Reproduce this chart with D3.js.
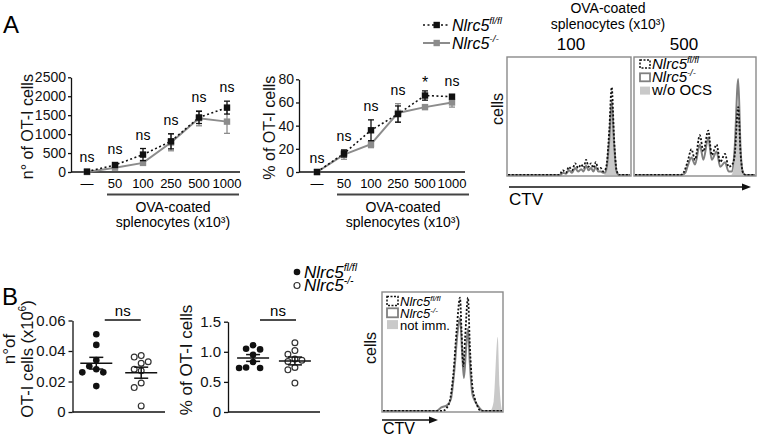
<!DOCTYPE html>
<html>
<head>
<meta charset="utf-8">
<script src="https://cdn.jsdelivr.net/npm/d3@7"></script>
<style>
  body { margin: 0; background: #fff; }
  svg { font-family: "Liberation Sans", Arial, Helvetica, sans-serif; }
</style>
</head>
<body>
<svg id="fig" width="758" height="436"></svg>
<script>
// ---- data: panel A line charts ----
const doses = ["—", "50", "100", "250", "500", "1000"];
const nFlMean = [10, 185, 460, 810, 1440, 1700];
const nFlErr = [10, 40, 160, 200, 160, 170];
const nKoMean = [0, 115, 240, 780, 1420, 1330];
const nKoErr = [10, 30, 50, 220, 200, 310];
const pctFlMean = [0, 16, 36, 50, 66, 65];
const pctFlErr = [0, 3, 9, 7, 4, 1.5];
const pctKoMean = [0, 15, 24, 51, 56, 60];
const pctKoErr = [0, 4, 3, 8, 2, 4];
const sigN = ["ns", "ns", "ns", "ns", "ns", "ns"];
const sigPct = ["ns", "ns", "ns", "ns", "*", "ns"];
const nTicks = [0, 500, 1000, 1500, 2000, 2500];
const pctTicks = [0, 20, 40, 60, 80];

// ---- data: panel B scatter ----
const bCountFl = [0.051, 0.044, 0.034, 0.030, 0.028, 0.026, 0.026, 0.017];
const bCountKo = [0.037, 0.036, 0.033, 0.032, 0.028, 0.027, 0.019, 0.016, 0.004];
const bPctFl = [1.11, 1.05, 1.04, 0.95, 0.83, 0.74, 0.73, 0.73];
const bPctKo = [1.15, 1.02, 0.96, 0.88, 0.86, 0.84, 0.74, 0.70, 0.48];
const bCountTicks = [0, 0.02, 0.04, 0.06];
const bPctTicks = [0, 0.5, 1.0, 1.5];

// ---- data: CTV histograms, [CTV, % of max] ----
const h100Fl = [[0,0],[42,0],[45,4],[47.5,2],[50,7],[52.5,4],[55,10],[57.5,6],[60,9],[62,6],[64,13],[66,7],[68,10],[70,6],[72,11],[74,5],[76,6],[78,3],[79.5,4],[81,10],[83,38],[85,75],[87,30],[89,4],[91,0],[100,0]];
const h100Ko = [[0,0],[43,0],[45,2],[47.5,1],[50,4],[52.5,2],[55,6],[57.5,3],[60,5],[62,3],[64,8],[66,4],[68,6],[70,3],[72,7],[74,3],[76,3],[78,2],[79.5,2],[81,7],[83,30],[85,63],[87,26],[89,3],[91,0],[100,0]];
const h100Ctrl = [[0,0],[78,0],[81,4],[83,28],[85,62],[87,26],[89,4],[91,0],[100,0]];
const h500Fl = [[0,0],[38,0],[41,3],[44,12],[47,22],[50,13],[54,34],[57,20],[61,38],[64,17],[68,26],[71,11],[75,18],[78,7],[81,9],[83,16],[86,58],[88,18],[90,2],[92,0],[100,0]];
const h500Ko = [[0,0],[39,0],[42,2],[44,8],[47,15],[50,9],[54,26],[57,13],[61,32],[64,13],[68,20],[71,7],[75,11],[78,3],[81,3],[83,22],[86,82],[88,22],[90,2],[92,0],[100,0]];
const h500Ctrl = [[0,0],[80,0],[82,4],[84,25],[86,62],[88,25],[90,3],[92,0],[100,0]];
const hImmFl = [[0,0],[50,0],[53,2],[56,8],[59,30],[62,70],[64.7,96],[66,68],[67.5,38],[69,62],[71.4,96],[73,55],[75,22],[77,11],[79,5],[81,1],[83,0],[100,0]];
const hImmKo = [[0,0],[45,0],[49,3],[54,5],[57,10],[60,35],[62.5,65],[64.7,79],[66.5,50],[68,28],[69.5,48],[71.4,70],[73,40],[75,15],[77,9],[80,4],[84,0],[100,0]];
const hImmCtrl = [[0,0],[90,0],[93,8],[96.4,63],[98,20],[99.5,3],[100,0]];

const BLACK = "#111";
const GRAY = "#8c8c8c";
const FILL = "#c9c9c9";
const svg = d3.select("#fig");

function supText(sel, base, sup, size) {
  sel.append("tspan").text(base);
  sel.append("tspan").attr("font-size", size * 0.62).attr("dy", -size * 0.4).text(sup);
  return sel;
}

function rotLabel(x, y, size) {
  return svg.append("text")
    .attr("transform", `translate(${x},${y}) rotate(-90)`)
    .attr("text-anchor", "middle").attr("font-size", size).attr("fill", BLACK);
}

function styleAxis(ax, size) {
  ax.attr("font-family", null).attr("font-size", null);
  ax.selectAll("text").attr("font-size", size).attr("fill", BLACK);
  ax.selectAll("line,path").attr("stroke", BLACK).attr("stroke-width", 1.3);
}

// ---- panel A line charts ----
function lineChart(o) {
  const g = svg.append("g");
  const x = d3.scalePoint().domain(doses).range(o.xr);
  const y = d3.scaleLinear().domain([0, o.ticks[o.ticks.length - 1]]).range(o.yr);

  const ax = g.append("g").attr("transform", `translate(${o.axisX},0)`)
    .call(d3.axisLeft(y).tickValues(o.ticks).tickFormat(d3.format("d"))
      .tickSize(3).tickSizeOuter(0).tickPadding(2));
  styleAxis(ax, 14);

  g.append("line").attr("x1", o.axisX).attr("x2", o.axisEnd)
    .attr("y1", o.yr[0]).attr("y2", o.yr[0]).attr("stroke", BLACK).attr("stroke-width", 1.3);

  g.selectAll(".cat").data(doses).join("text")
    .attr("x", d => x(d)).attr("y", o.yr[0] + 15.5)
    .attr("text-anchor", "middle").attr("font-size", 13).text(d => d);

  g.append("line").attr("x1", o.ul[0]).attr("x2", o.ul[1])
    .attr("y1", o.yr[0] + 22.5).attr("y2", o.yr[0] + 22.5)
    .attr("stroke", "#444").attr("stroke-width", 2);
  const uc = (o.ul[0] + o.ul[1]) / 2;
  g.append("text").attr("x", uc).attr("y", o.yr[0] + 40).attr("text-anchor", "middle")
    .attr("font-size", 14).text("OVA-coated");
  g.append("text").attr("x", uc).attr("y", o.yr[0] + 54.5).attr("text-anchor", "middle")
    .attr("font-size", 14).text("splenocytes (x10³)");

  const series = [
    { mean: o.ko, err: o.koErr, color: GRAY, dash: null, w: 2 },
    { mean: o.fl, err: o.flErr, color: BLACK, dash: "2,2.5", w: 1.6 }
  ];
  series.forEach(s => {
    const pts = doses.map((d, i) => [x(d), y(s.mean[i])]);
    g.append("path").attr("d", d3.line()(pts)).attr("fill", "none")
      .attr("stroke", s.color).attr("stroke-width", s.w).attr("stroke-dasharray", s.dash);
  });
  series.forEach(s => {
    doses.forEach((d, i) => {
      const cx = x(d), lo = y(Math.max(0, s.mean[i] - s.err[i])), hi = y(s.mean[i] + s.err[i]);
      if (s.err[i] > 0) {
        g.append("line").attr("x1", cx).attr("x2", cx).attr("y1", lo).attr("y2", hi)
          .attr("stroke", s.color).attr("stroke-width", 1.3);
        [lo, hi].forEach(v => g.append("line").attr("x1", cx - 3).attr("x2", cx + 3)
          .attr("y1", v).attr("y2", v).attr("stroke", s.color).attr("stroke-width", 1.3));
      }
      g.append("rect").attr("x", cx - 3.2).attr("y", y(s.mean[i]) - 3.2)
        .attr("width", 6.4).attr("height", 6.4).attr("fill", s.color);
    });
  });

  doses.forEach((d, i) => {
    const top = Math.max(o.fl[i] + o.flErr[i], o.ko[i] + o.koErr[i]);
    const star = o.sig[i] === "*";
    g.append("text").attr("x", x(d)).attr("y", y(top) - 9 + (star ? 6 : 0))
      .attr("text-anchor", "middle").attr("font-size", star ? 16 : 14).text(o.sig[i]);
  });

  rotLabel(o.titleX, (o.yr[0] + o.yr[1]) / 2 + 2, 16).text(o.title);
}

lineChart({ xr: [87, 227], yr: [172, 77.3], axisX: 71, axisEnd: 240, ul: [107, 239],
  ticks: nTicks, fl: nFlMean, flErr: nFlErr, ko: nKoMean, koErr: nKoErr, sig: sigN,
  titleX: 33, title: "n° of OT-I cells" });
lineChart({ xr: [317, 452], yr: [172, 79.3], axisX: 299, axisEnd: 465, ul: [337, 469],
  ticks: pctTicks, fl: pctFlMean, flErr: pctFlErr, ko: pctKoMean, koErr: pctKoErr, sig: sigPct,
  titleX: 275, title: "% of OT-I cells" });

// legend A
[{ c: BLACK, dash: "2,2.5", w: 1.6, sup: "fl/fl", y: 25 }, { c: GRAY, dash: null, w: 2, sup: "-/-", y: 43 }]
  .forEach(l => {
    svg.append("line").attr("x1", 423).attr("x2", 450).attr("y1", l.y).attr("y2", l.y)
      .attr("stroke", l.c).attr("stroke-width", l.w).attr("stroke-dasharray", l.dash);
    svg.append("rect").attr("x", 433.5).attr("y", l.y - 3.2).attr("width", 6.4).attr("height", 6.4).attr("fill", l.c);
    supText(svg.append("text").attr("x", 452).attr("y", l.y + 5.5).attr("font-size", 16)
      .attr("font-style", "italic"), "Nlrc5", l.sup, 16);
  });

// ---- histograms ----
function hist(b, fl, ko, ctrl) {
  const g = svg.append("g");
  const x = d3.scaleLinear().domain([0, 100]).range([b.x0 + 1, b.x1 - 1]);
  const y = d3.scaleLinear().domain([0, 100]).range([b.y1 - 1, b.y0 + 1]);
  const id = "clip" + Math.round(b.x0);
  svg.append("clipPath").attr("id", id).append("rect")
    .attr("x", b.x0).attr("y", b.y0).attr("width", b.x1 - b.x0).attr("height", b.y1 - b.y0);
  const inner = g.append("g").attr("clip-path", `url(#${id})`);
  inner.append("path").attr("d", d3.area().x(d => x(d[0])).y0(y(0)).y1(d => y(d[1])).curve(d3.curveMonotoneX)(ctrl))
    .attr("fill", FILL);
  inner.append("path").attr("d", d3.line().x(d => x(d[0])).y(d => y(d[1])).curve(d3.curveMonotoneX)(ko))
    .attr("fill", "none").attr("stroke", "#808080").attr("stroke-width", 2);
  inner.append("path").attr("d", d3.line().x(d => x(d[0])).y(d => y(d[1])).curve(d3.curveMonotoneX)(fl))
    .attr("fill", "none").attr("stroke", BLACK).attr("stroke-width", 1.8).attr("stroke-dasharray", "2,1.8");
  g.append("rect").attr("x", b.x0).attr("y", b.y0).attr("width", b.x1 - b.x0).attr("height", b.y1 - b.y0)
    .attr("fill", "none").attr("stroke", "#8a8a8a").attr("stroke-width", 1.4);
}

function histLegend(x, y0, step, w, h, size, labels) {
  const styles = [
    { fill: "none", stroke: BLACK, dash: "2,1.5", sw: 1.5 },
    { fill: "none", stroke: "#808080", dash: null, sw: 1.8 },
    { fill: FILL, stroke: "none", dash: null, sw: 0 }
  ];
  labels.forEach((lab, i) => {
    const yy = y0 + i * step;
    svg.append("rect").attr("x", x).attr("y", yy - h).attr("width", w).attr("height", h)
      .attr("fill", styles[i].fill).attr("stroke", styles[i].stroke)
      .attr("stroke-width", styles[i].sw).attr("stroke-dasharray", styles[i].dash);
    const t = svg.append("text").attr("x", x + w + 2).attr("y", yy + 0.5).attr("font-size", size);
    if (lab.sup) supText(t.attr("font-style", "italic"), lab.base, lab.sup, size);
    else t.text(lab.base);
  });
}

function arrow(x0, x1, y) {
  svg.append("line").attr("x1", x0).attr("x2", x1 - 6).attr("y1", y).attr("y2", y)
    .attr("stroke", BLACK).attr("stroke-width", 1.3);
  svg.append("path").attr("d", `M${x1},${y} L${x1 - 9},${y - 3.5} L${x1 - 9},${y + 3.5} Z`).attr("fill", BLACK);
}

svg.append("text").attr("x", 608).attr("y", 13).attr("text-anchor", "middle").attr("font-size", 14).text("OVA-coated");
svg.append("text").attr("x", 608).attr("y", 29).attr("text-anchor", "middle").attr("font-size", 14).text("splenocytes (x10³)");
svg.append("text").attr("x", 571).attr("y", 50).attr("text-anchor", "middle").attr("font-size", 17).text("100");
svg.append("text").attr("x", 684).attr("y", 50).attr("text-anchor", "middle").attr("font-size", 17).text("500");

hist({ x0: 507, x1: 631, y0: 57, y1: 176 }, h100Fl, h100Ko, h100Ctrl);
hist({ x0: 634, x1: 756, y0: 57, y1: 176 }, h500Fl, h500Ko, h500Ctrl);
histLegend(640, 68, 13.3, 10, 8, 15, [{ base: "Nlrc5", sup: "fl/fl" }, { base: "Nlrc5", sup: "-/-" }, { base: "w/o OCS" }]);
arrow(509, 751, 187);
svg.append("text").attr("x", 509).attr("y", 205).attr("font-size", 17).text("CTV");
rotLabel(503, 109, 16).text("cells");

hist({ x0: 382, x1: 503, y0: 292, y1: 412 }, hImmFl, hImmKo, hImmCtrl);
histLegend(387, 305.5, 11.8, 11, 9, 13, [{ base: "Nlrc5", sup: "fl/fl" }, { base: "Nlrc5", sup: "-/-" }, { base: "not imm." }]);
arrow(382, 438, 420);
svg.append("text").attr("x", 383).attr("y", 434).attr("font-size", 16).text("CTV");
rotLabel(376, 348, 16).text("cells");

// ---- panel B scatter ----
function swarm(vals, y, cx, d) {
  const placed = [];
  vals.map(v => ({ v, py: y(v) })).sort((a, b) => a.py - b.py).forEach(p => {
    for (const k of [0, -1, 1, -2, 2, -3, 3]) {
      const px = cx + k * d;
      if (placed.every(q => Math.hypot(q.px - px, q.py - p.py) >= d - 0.3)) { p.px = px; break; }
    }
    placed.push(p);
  });
  return placed;
}

function scatter(o) {
  const g = svg.append("g");
  const x = d3.scalePoint().domain(["fl", "ko"]).range([o.axisX, o.axisEnd]).padding(o.pad);
  const y = d3.scaleLinear().domain([0, o.ticks[o.ticks.length - 1]]).range(o.yr);
  const ax = g.append("g").attr("transform", `translate(${o.axisX},0)`)
    .call(d3.axisLeft(y).tickValues(o.ticks).tickSize(4).tickSizeOuter(0).tickPadding(3).tickFormat(o.fmt));
  styleAxis(ax, 15);
  g.append("line").attr("x1", o.axisX).attr("x2", o.axisEnd).attr("y1", o.yr[0]).attr("y2", o.yr[0])
    .attr("stroke", BLACK).attr("stroke-width", 1.3);

  [["fl", o.fl, true], ["ko", o.ko, false]].forEach(([k, vals, filled]) => {
    const cx = x(k);
    swarm(vals, y, cx, 7).forEach(p => {
      g.append("circle").attr("cx", p.px).attr("cy", p.py).attr("r", filled ? 3.3 : 2.9)
        .attr("fill", filled ? BLACK : "#fff").attr("stroke", filled ? "none" : "#333").attr("stroke-width", 1.2);
    });
    const m = d3.mean(vals), se = d3.deviation(vals) / Math.sqrt(vals.length);
    g.append("line").attr("x1", cx - 16).attr("x2", cx + 16).attr("y1", y(m)).attr("y2", y(m))
      .attr("stroke", BLACK).attr("stroke-width", 1.5);
    g.append("line").attr("x1", cx).attr("x2", cx).attr("y1", y(m - se)).attr("y2", y(m + se))
      .attr("stroke", BLACK).attr("stroke-width", 1.5);
    [m - se, m + se].forEach(v => g.append("line").attr("x1", cx - 7).attr("x2", cx + 7)
      .attr("y1", y(v)).attr("y2", y(v)).attr("stroke", BLACK).attr("stroke-width", 1.5));
  });

  const c = (x("fl") + x("ko")) / 2 + 4;
  g.append("line").attr("x1", c - 18).attr("x2", c + 18).attr("y1", 320).attr("y2", 320)
    .attr("stroke", BLACK).attr("stroke-width", 1.3);
  g.append("text").attr("x", c).attr("y", 316).attr("text-anchor", "middle").attr("font-size", 15).text("ns");
}

scatter({ axisX: 72.5, axisEnd: 165, pad: 0.53, yr: [412, 320.5], ticks: bCountTicks,
  fl: bCountFl, ko: bCountKo, fmt: d => d === 0 ? "0" : d3.format(".2f")(d) });
scatter({ axisX: 228, axisEnd: 320, pad: 0.6, yr: [412, 321.7], ticks: bPctTicks,
  fl: bPctFl, ko: bPctKo, fmt: d => d === 0 ? "0" : d3.format(".1f")(d) });

rotLabel(15, 349, 17).text("n°of");
const bTitle = supText(rotLabel(33, 359, 16.5), "OT-I cells (x10", "6", 16.5);
bTitle.append("tspan").attr("dy", 16.5 * 0.4).text(")");
rotLabel(192, 360, 17).text("% of OT-I cells");

// legend B
svg.append("circle").attr("cx", 297).attr("cy", 272).attr("r", 3.3).attr("fill", BLACK);
svg.append("circle").attr("cx", 297).attr("cy", 285.5).attr("r", 3).attr("fill", "#fff").attr("stroke", "#333").attr("stroke-width", 1.2);
supText(svg.append("text").attr("x", 304).attr("y", 277.5).attr("font-size", 17).attr("font-style", "italic"), "Nlrc5", "fl/fl", 17);
supText(svg.append("text").attr("x", 304).attr("y", 291).attr("font-size", 17).attr("font-style", "italic"), "Nlrc5", "-/-", 17);

// panel letters
svg.append("text").attr("x", 3).attr("y", 33).attr("font-size", 24).text("A");
svg.append("text").attr("x", 2).attr("y", 305).attr("font-size", 24).text("B");
</script>
</body>
</html>
